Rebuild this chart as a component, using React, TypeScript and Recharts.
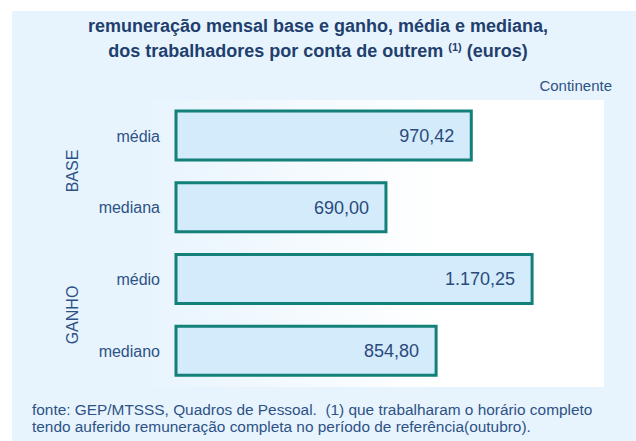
import { BarChart, Bar, XAxis, YAxis, LabelList } from 'recharts'

// remuneração mensal (euros), Continente
const categories = ['média', 'mediana', 'médio', 'mediano']
const values = [970.42, 690.0, 1170.25, 854.8]
const groups = ['BASE', 'GANHO']
const xDomain = [0, 1400]

const data = categories.map((name, i) => ({ name, value: values[i] }))

const fmt = (v: any) => {
  const [int, dec] = Number(v).toFixed(2).split('.')
  return int.replace(/\B(?=(\d{3})+(?!\d))/g, '.') + ',' + dec
}

const navy = '#1f3f6f'
const textBlue = '#2d5286'

export default function App() {
  return (
    <div
      style={{
        position: 'absolute',
        left: 0,
        top: 0,
        width: 636,
        height: 441,
        background: '#fff',
        fontFamily: '"Liberation Sans", Arial, sans-serif',
        overflow: 'hidden',
      }}
    >
      <div style={{ position: 'absolute', left: 12, top: 11, width: 624, height: 430, background: '#e8f4fd' }} />
      <div
        style={{
          position: 'absolute',
          left: 143,
          top: 100,
          width: 461,
          height: 287,
          background: 'linear-gradient(to right, #e8f4fd 0%, #ffffff 65%)',
        }}
      />
      <div
        style={{
          position: 'absolute',
          left: 6,
          width: 624,
          top: 16,
          textAlign: 'center',
          color: navy,
          fontWeight: 'bold',
          fontSize: 18,
          lineHeight: '21px',
        }}
      >
        remuneração mensal base e ganho, média e mediana,
        <br />
        dos trabalhadores por conta de outrem <sup style={{ fontSize: 11, verticalAlign: '6px' }}>(1)</sup> (euros)
      </div>
      <div style={{ position: 'absolute', right: 24, top: 77, color: textBlue, fontSize: 15 }}>Continente</div>

      <div style={{ position: 'absolute', left: 0, top: 0 }}>
        <BarChart
          width={636}
          height={441}
          data={data}
          layout="vertical"
          margin={{ top: 100, right: 34, bottom: 54, left: 0 }}
          barSize={49}
        >
          <XAxis type="number" domain={xDomain} hide />
          <YAxis
            type="category"
            dataKey="name"
            width={176}
            axisLine={false}
            tickLine={false}
            tickMargin={10}
            tick={{ fontSize: 16, fill: textBlue }}
          />
          <Bar dataKey="value" fill="#d3ebfb" stroke="#138079" strokeWidth={3} isAnimationActive={false}>
            <LabelList
              dataKey="value"
              position="insideRight"
              offset={17}
              formatter={fmt}
              fill="#2b4a7b"
              fontSize={18}
            />
          </Bar>
        </BarChart>
      </div>

      {groups.map((g, i) => (
        <div
          key={g}
          style={{
            position: 'absolute',
            left: 73,
            top: i === 0 ? 171 : 315,
            transform: 'translate(-50%, -50%) rotate(-90deg)',
            color: textBlue,
            fontSize: 16,
            whiteSpace: 'nowrap',
          }}
        >
          {g}
        </div>
      ))}

      <div
        style={{
          position: 'absolute',
          left: 32,
          top: 401,
          color: textBlue,
          fontSize: 15.4,
          lineHeight: '17px',
          whiteSpace: 'pre',
        }}
      >
        {'fonte: GEP/MTSSS, Quadros de Pessoal.  (1) que trabalharam o horário completo\ntendo auferido remuneração completa no período de referência(outubro).'}
      </div>
    </div>
  )
}
